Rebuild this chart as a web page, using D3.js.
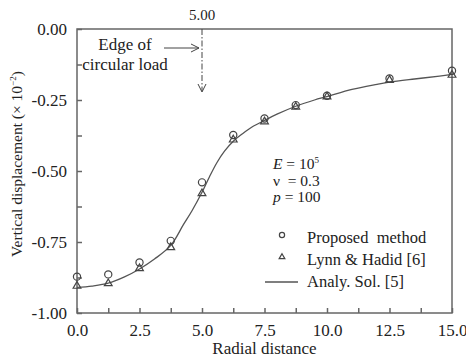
<!DOCTYPE html>
<html>
<head>
<meta charset="utf-8">
<script src="https://cdn.jsdelivr.net/npm/d3@7"></script>
<style>
  body { margin: 0; background: #fff; }
  text { font-family: "Liberation Serif", "Times New Roman", serif; fill: #222; }
</style>
</head>
<body>
<svg id="chart" width="466" height="358"></svg>
<script>
// radial positions of the nodes
const xNodes = [0, 1.25, 2.5, 3.75, 5, 6.25, 7.5, 8.75, 10, 12.5, 15];
// proposed method (circles)
const proposed = [-0.872, -0.864, -0.822, -0.746, -0.54, -0.373, -0.315, -0.268, -0.235, -0.174, -0.147];
// Lynn & Hadid [6] (triangles)
const lynnHadid = [-0.905, -0.896, -0.843, -0.769, -0.579, -0.39, -0.326, -0.274, -0.238, -0.18, -0.162];
// analytical solution [5] (line)
const analX = [0, 0.6, 1.25, 1.9, 2.5, 3.1, 3.75, 4.25, 4.6, 5, 5.3, 5.6, 5.9, 6.25, 6.6, 7, 7.5, 8, 8.75, 9.5, 10, 11, 12, 12.5, 13.5, 14.5, 15];
const analY = [-0.91, -0.905, -0.895, -0.873, -0.845, -0.81, -0.762, -0.69, -0.64, -0.575, -0.52, -0.47, -0.43, -0.395, -0.37, -0.345, -0.322, -0.3, -0.272, -0.25, -0.238, -0.213, -0.195, -0.187, -0.176, -0.166, -0.16];
const xTicks = [0, 2.5, 5, 7.5, 10, 12.5, 15];
const yTicks = [0, -0.25, -0.5, -0.75, -1];

const margin = {top: 29, right: 14, bottom: 45, left: 77};
const width = 466 - margin.left - margin.right;
const height = 358 - margin.top - margin.bottom;

const svg = d3.select('#chart');
const g = svg.append('g').attr('transform', `translate(${margin.left},${margin.top})`);

const x = d3.scaleLinear().domain([0, 15]).range([0, width]);
const y = d3.scaleLinear().domain([-1, 0]).range([height, 0]);

const axisColor = '#666';

// frame
g.append('rect')
    .attr('width', width).attr('height', height)
    .attr('fill', 'none').attr('stroke', axisColor).attr('stroke-width', 1.5);

// x axis, ticks inward
const xAxis = d3.axisBottom(x)
    .tickValues(d3.range(0, 15.01, 1.25))
    .tickSize(-5).tickPadding(11)
    .tickFormat(d => xTicks.includes(d) ? d3.format('.1f')(d) : '');
const xg = g.append('g').attr('transform', `translate(0,${height})`).call(xAxis);

// y axis, ticks inward
const yAxis = d3.axisLeft(y)
    .tickValues(d3.range(-1, 0.001, 0.125))
    .tickSize(-5).tickPadding(10)
    .tickFormat(d => yTicks.some(t => Math.abs(t - d) < 1e-9) ? d3.format('.2f')(d).replace('\u2212', '-') : '');
const yg = g.append('g').call(yAxis);

[xg, yg].forEach(a => {
  a.select('.domain').remove();
  a.selectAll('line').attr('stroke', axisColor).attr('stroke-width', 1.5);
  a.selectAll('text').style('font-size', '17px').attr('fill', '#222');
});

// analytical line
const line = d3.line().x((d, i) => x(analX[i])).y(d => y(d)).curve(d3.curveCatmullRom);
g.append('path').datum(analY)
    .attr('d', line).attr('fill', 'none').attr('stroke', '#555').attr('stroke-width', 1.3);

// triangles
const tri = d3.symbol().type(d3.symbolTriangle).size(26);
g.selectAll('.tri').data(lynnHadid).join('path')
    .attr('transform', (d, i) => `translate(${x(xNodes[i])},${y(d)})`)
    .attr('d', tri).attr('fill', 'none').attr('stroke', '#444').attr('stroke-width', 1.2);

// circles
g.selectAll('.circ').data(proposed).join('circle')
    .attr('cx', (d, i) => x(xNodes[i])).attr('cy', d => y(d)).attr('r', 3.6)
    .attr('fill', 'none').attr('stroke', '#444').attr('stroke-width', 1.2);

// edge of circular load marker
const xe = x(5);
g.append('line')
    .attr('x1', xe).attr('x2', xe).attr('y1', 0).attr('y2', 62)
    .attr('stroke', '#444').attr('stroke-width', 1).attr('stroke-dasharray', '6,2,1.5,2');
g.append('path')
    .attr('d', `M${xe - 4},${55} L${xe},${63} L${xe + 4},${55}`)
    .attr('fill', 'none').attr('stroke', '#444').attr('stroke-width', 1);
g.append('line')
    .attr('x1', 87).attr('x2', xe - 3).attr('y1', 19).attr('y2', 19)
    .attr('stroke', '#444').attr('stroke-width', 1);
g.append('path')
    .attr('d', `M${xe - 11},${15} L${xe - 3},${19} L${xe - 11},${23}`)
    .attr('fill', 'none').attr('stroke', '#444').attr('stroke-width', 1);
g.append('text').attr('x', xe).attr('y', -9).attr('text-anchor', 'middle')
    .style('font-size', '15px').text('5.00');
g.append('text').attr('x', 48).attr('y', 21).attr('text-anchor', 'middle')
    .style('font-size', '17px').text('Edge of');
g.append('text').attr('x', 48).attr('y', 41).attr('text-anchor', 'middle')
    .style('font-size', '17px').text('circular load');

// parameters
const params = g.append('g').attr('transform', 'translate(196,0)').style('font-size', '15.5px');
const p1 = params.append('text').attr('y', 140);
p1.append('tspan').style('font-style', 'italic').text('E');
p1.append('tspan').text('\u00A0= 10');
p1.append('tspan').attr('dy', -6).style('font-size', '9px').text('5');
params.append('text').attr('y', 157).text('\u03BD\u00A0\u00A0= 0.3');
const p3 = params.append('text').attr('y', 173);
p3.append('tspan').style('font-style', 'italic').text('p');
p3.append('tspan').text('\u00A0= 100');

// legend
const lg = g.append('g');
const legendItems = ['Proposed\u00A0 method', 'Lynn & Hadid [6]', 'Analy. Sol. [5]'];
lg.append('circle').attr('cx', 205).attr('cy', 206).attr('r', 2.6)
    .attr('fill', 'none').attr('stroke', '#444').attr('stroke-width', 1.2);
lg.append('path').attr('transform', 'translate(205,228)').attr('d', d3.symbol().type(d3.symbolTriangle).size(14))
    .attr('fill', 'none').attr('stroke', '#444').attr('stroke-width', 1.2);
lg.append('line').attr('x1', 188).attr('x2', 221).attr('y1', 253).attr('y2', 253)
    .attr('stroke', '#555').attr('stroke-width', 1.3);
lg.selectAll('.lt').data(legendItems).join('text')
    .attr('x', 230).attr('y', (d, i) => 214 + i * 22)
    .style('font-size', '16.5px').text(d => d);

// axis titles
svg.append('text').attr('x', margin.left + width / 2).attr('y', 354).attr('text-anchor', 'middle')
    .style('font-size', '17px').text('Radial distance');
const yt = svg.append('text')
    .attr('transform', `translate(22,${margin.top + height / 2 - 7}) rotate(-90)`)
    .attr('text-anchor', 'middle').style('font-size', '15.5px');
yt.append('tspan').text('Vertical displacement (\u00D7 10');
yt.append('tspan').attr('dy', -6).style('font-size', '9px').text('\u22122');
yt.append('tspan').attr('dy', 6).text(')');
</script>
</body>
</html>
